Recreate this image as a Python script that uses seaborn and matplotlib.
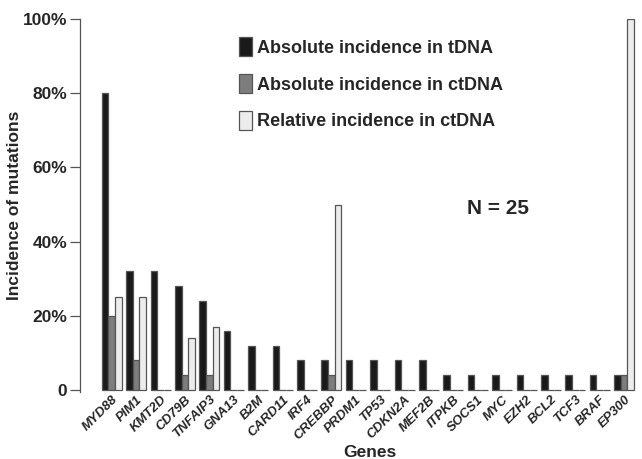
import pandas as pd
import seaborn as sns
import matplotlib.pyplot as plt

#%% data
genes = ['MYD88', 'PIM1', 'KMT2D', 'CD79B', 'TNFAIP3', 'GNA13', 'B2M', 'CARD11',
         'IRF4', 'CREBBP', 'PRDM1', 'TP53', 'CDKN2A', 'MEF2B', 'ITPKB', 'SOCS1',
         'MYC', 'EZH2', 'BCL2', 'TCF3', 'BRAF', 'EP300']
abs_tdna = [80, 32, 32, 28, 24, 16, 12, 12, 8, 8, 8, 8, 8, 8, 4, 4, 4, 4, 4, 4, 4, 4]
abs_ctdna = [20, 8, 0, 4, 4, 0, 0, 0, 0, 4, 0, 0, 0, 0, 0, 0, 0, 0, 0, 0, 0, 4]
rel_ctdna = [25, 25, 0, 14, 17, 0, 0, 0, 0, 50, 0, 0, 0, 0, 0, 0, 0, 0, 0, 0, 0, 100]
series = ['Absolute incidence in tDNA', 'Absolute incidence in ctDNA',
          'Relative incidence in ctDNA']

df = pd.DataFrame({'Genes': genes * 3,
                   'value': abs_tdna + abs_ctdna + rel_ctdna,
                   'series': [s for s in series for _ in genes]})

#%% plot
sns.set_style('white')
plt.rcParams['font.family'] = ['Liberation Sans', 'DejaVu Sans']

fig = plt.figure(figsize=(6.42, 4.59), dpi=100)
ax = fig.add_axes([80 / 642, 1 - 392 / 459, 560 / 642, 373 / 459])

sns.barplot(data=df, x='Genes', y='value', hue='series', ax=ax,
            palette=['#1a1a1a', '#7d7d7d', '#ececec'], width=0.82,
            edgecolor='#555555', linewidth=0.9, saturation=1)

# a bit below zero so the empty bars still show as a baseline
ax.set_ylim(-0.5, 100)
ax.set_xlim(-1.3, 21.65)
ax.set_yticks([0, 20, 40, 60, 80, 100])
ax.set_yticklabels(['0', '20%', '40%', '60%', '80%', '100%'],
                   fontsize=12.5, fontweight='bold')
ax.tick_params(axis='y', length=7, width=0.9, color='#555555', pad=2, left=True)
ax.tick_params(axis='x', length=0, pad=1)
for lab in ax.get_xticklabels():
    lab.set_rotation(45)
    lab.set_ha('right')
    lab.set_rotation_mode('anchor')
    lab.set_fontsize(9.5)
    lab.set_fontweight('bold')
    lab.set_fontstyle('italic')

ax.set_ylabel('Incidence of mutations', fontsize=12.5, fontweight='bold')
ax.yaxis.set_label_coords(-0.104, 0.5)
ax.set_xlabel('Genes', fontsize=12.5, fontweight='bold')
ax.xaxis.set_label_coords(0.518, -0.142)

sns.despine(ax=ax, bottom=True)
ax.spines['left'].set_color('#555555')
ax.spines['left'].set_linewidth(0.9)

ax.legend(title=None, loc='upper left', bbox_to_anchor=(0.255, 0.995),
          frameon=False, prop={'weight': 'bold', 'size': 13},
          handlelength=0.7, handleheight=1.25, handletextpad=0.3,
          labelspacing=0.95)

ax.text(0.747, 0.493, 'N = 25', transform=ax.transAxes, fontsize=15,
        fontweight='bold', ha='center', va='center')

fig.savefig('out.png', dpi=100)
